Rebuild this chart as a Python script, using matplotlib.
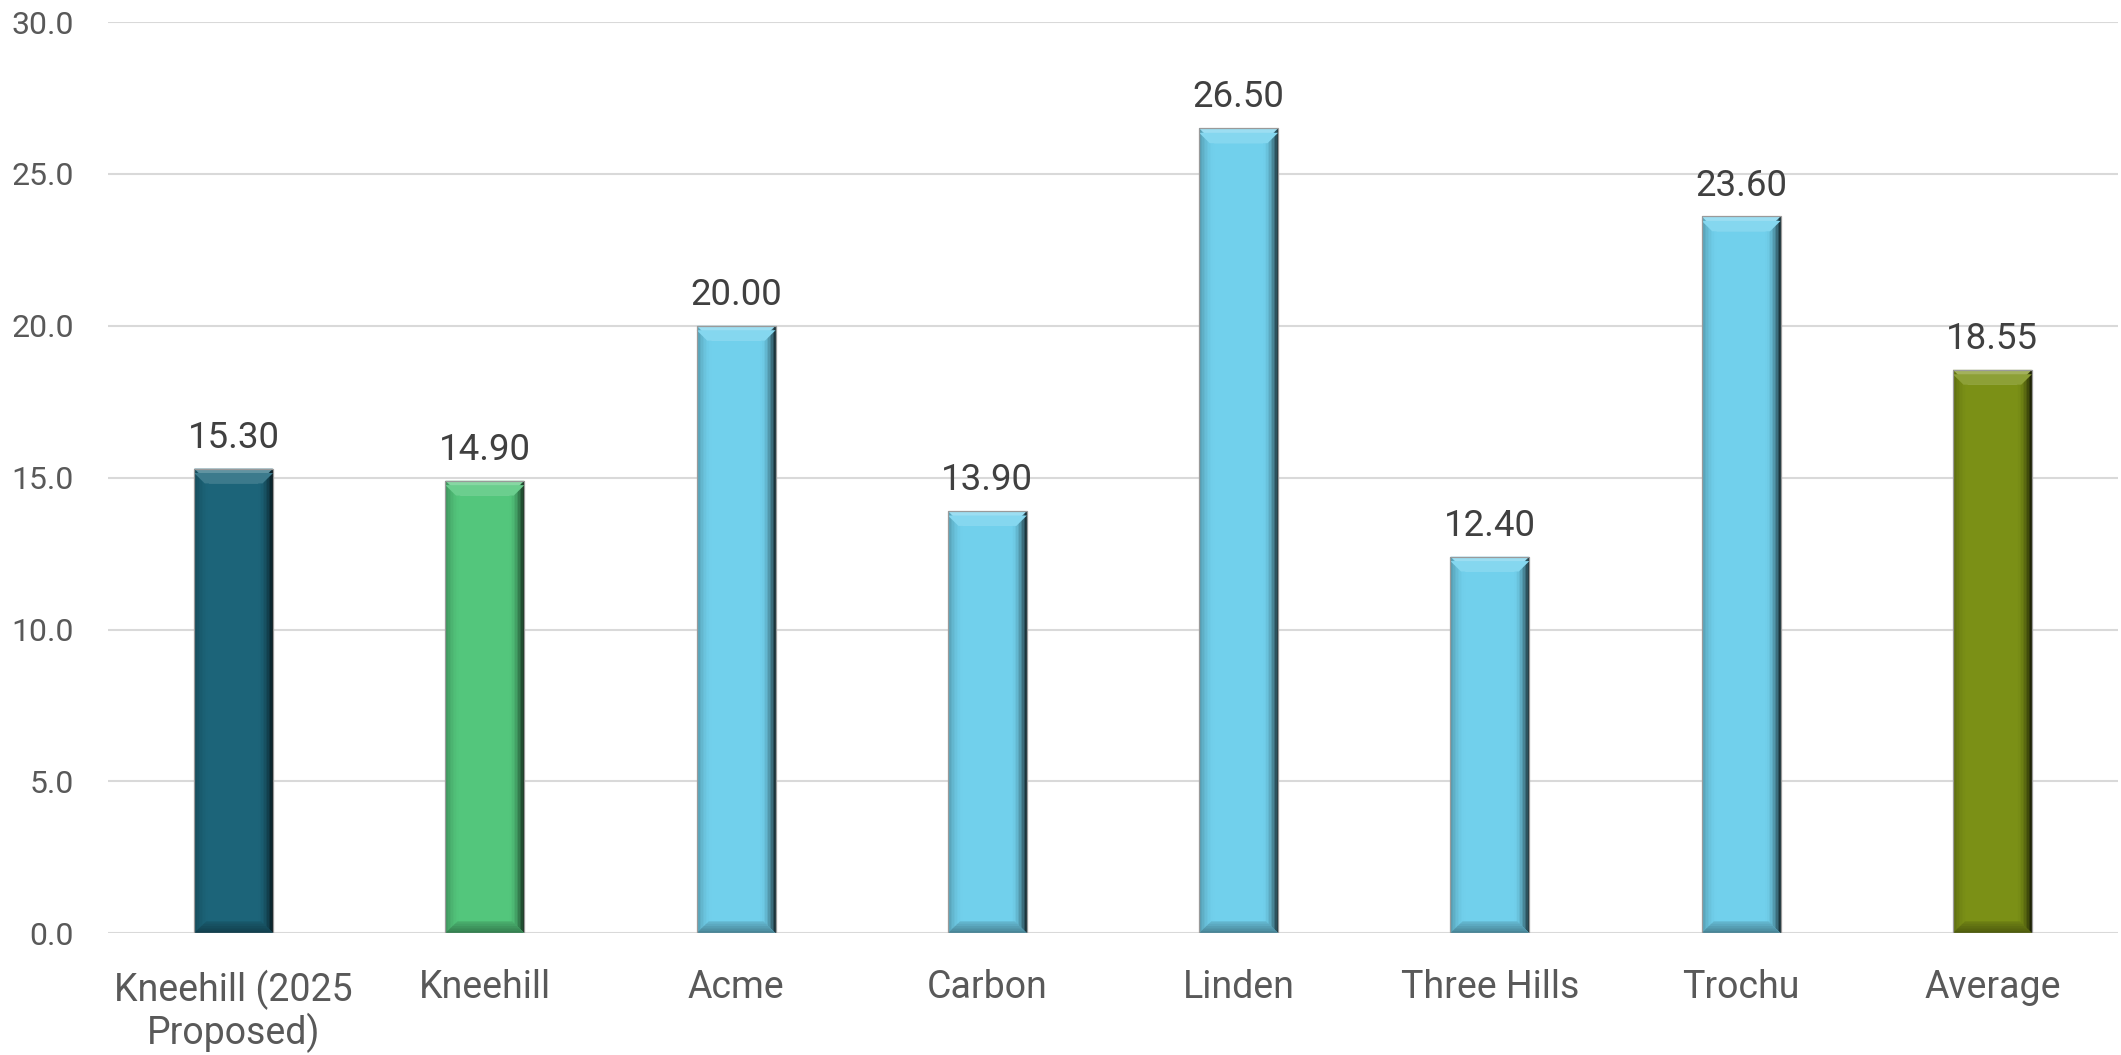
import matplotlib.pyplot as plt
import matplotlib.colors as mcolors
from matplotlib.patches import Polygon, Rectangle
import numpy as np

plt.rcParams['font.family'] = ['Roboto', 'DejaVu Sans']

# data
categories = ["Kneehill (2025\nProposed)", "Kneehill", "Acme", "Carbon",
              "Linden", "Three Hills", "Trochu", "Average"]
values = [15.30, 14.90, 20.00, 13.90, 26.50, 12.40, 23.60, 18.55]
bar_colors = ["#1C6479", "#53C67C", "#71D0EC", "#71D0EC",
              "#71D0EC", "#71D0EC", "#71D0EC", "#7B9016"]


def shade(c, f):
    # f > 0 mixes toward white, f < 0 toward black
    r = np.array(mcolors.to_rgb(c))
    return tuple(r + (1 - r) * f) if f > 0 else tuple(r * (1 + f))


def bevel(ax, bar, color, bx=0.06, by=0.49):
    x0, w, h = bar.get_x(), bar.get_width(), bar.get_height()
    x1 = x0 + w
    n = 10
    # right side: gradient toward a dark edge
    for k in range(n):
        xa = x1 - bx + bx * k / n
        f = -0.75 * ((k + 1) / n) ** 2
        ax.add_patch(Rectangle((xa, 0), bx / n + 0.001, h, facecolor=shade(color, f),
                               edgecolor="none", zorder=3))
    # left side: slight darkening
    for k in range(n):
        xa = x0 + bx * k / n
        f = -0.25 * ((n - k) / n) ** 2
        ax.add_patch(Rectangle((xa, 0), bx / n + 0.001, h, facecolor=shade(color, f),
                               edgecolor="none", zorder=3))
    # top band lighter
    ax.add_patch(Polygon([(x0, h), (x1, h), (x1 - bx, h - by), (x0 + bx, h - by)],
                         closed=True, facecolor=shade(color, 0.3), edgecolor="none", zorder=4))
    ax.add_patch(Polygon([(x0, h - by * 0.3), (x1, h - by * 0.3), (x1 - bx * 0.7, h - by),
                          (x0 + bx * 0.7, h - by)],
                         closed=True, facecolor=shade(color, 0.14), edgecolor="none", zorder=4))
    # bottom band darker, softer toward the face
    m = 5
    for k in range(m):
        t = by * 0.8 * (1 - k / m)
        f = -0.08 - 0.27 * (k + 1) / m
        ax.add_patch(Polygon([(x0, 0), (x1, 0), (x1 - bx * t / by, t), (x0 + bx * t / by, t)],
                             closed=True, facecolor=shade(color, f), edgecolor="none", zorder=4))
    ax.add_patch(Rectangle((x0, 0), w, h, facecolor="none", edgecolor="#9A9A9A",
                           linewidth=0.9, zorder=5))


fig = plt.figure(figsize=(21.21, 10.55), dpi=100)
ax = fig.add_axes([108 / 2121, 121.7 / 1055, 2010 / 2121, 911.3 / 1055])

x = np.arange(len(categories))
bars = ax.bar(x, values, width=0.314, color=bar_colors, edgecolor="none", zorder=2)
for b, c in zip(bars, bar_colors):
    bevel(ax, b, c)

for xi, v in zip(x, values):
    ax.annotate(f"{v:.2f}", (xi, v), xytext=(0, 15), textcoords="offset points",
                ha="center", va="baseline", fontsize=26.4, color="#404040", zorder=6)

ax.set_xlim(-0.5, 7.5)
ax.set_ylim(0, 30)
ax.set_yticks(np.arange(0, 31, 5))
ax.set_yticklabels([f"{t:.1f}" for t in np.arange(0, 31, 5)])
ax.set_xticks(x)
ax.set_xticklabels(categories, fontsize=27, color="#595959", linespacing=1.1)
ax.tick_params(axis="y", length=0, pad=24.5, labelsize=23, labelcolor="#595959")
ax.tick_params(axis="x", length=0, pad=26)
ax.grid(True, axis="y", color="#D9D9D9", linewidth=1.5, zorder=0)
ax.set_axisbelow(True)
for s in ax.spines.values():
    s.set_visible(False)

plt.savefig("out.png", dpi=100)
